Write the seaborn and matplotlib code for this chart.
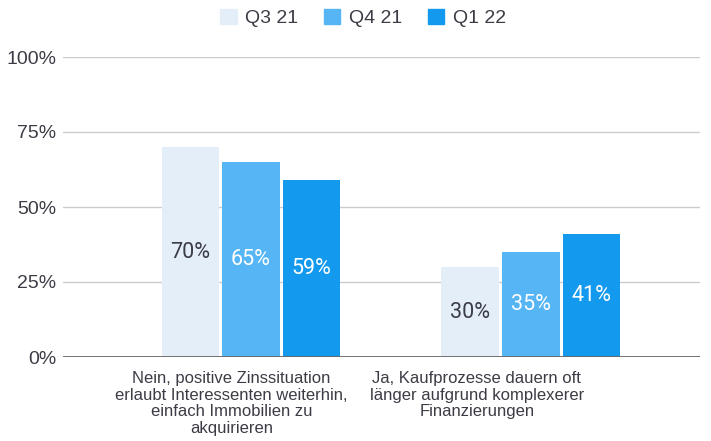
import seaborn as sns
import pandas as pd
import matplotlib.pyplot as plt
import matplotlib.transforms as mtransforms

categories = [
    "Nein, positive Zinssituation\nerlaubt Interessenten weiterhin,\neinfach Immobilien zu\nakquirieren",
    "Ja, Kaufprozesse dauern oft\nlänger aufgrund komplexerer\nFinanzierungen",
]
quarters = ["Q3 21", "Q4 21", "Q1 22"]
q3_21 = [70, 30]
q4_21 = [65, 35]
q1_22 = [59, 41]

colors = {"Q3 21": "#E3EEF8", "Q4 21": "#55B5F5", "Q1 22": "#1399EE"}
label_colors = {"Q3 21": "#3C3C46", "Q4 21": "white", "Q1 22": "white"}
TEXT = "#3C3C46"

rows = []
for q, vals in zip(quarters, [q3_21, q4_21, q1_22]):
    for c, v in zip(categories, vals):
        rows.append({"Kategorie": c, "Quartal": q, "Wert": v})
df = pd.DataFrame(rows)

sns.set_style("white")
plt.rcParams['font.family'] = ['Liberation Sans', 'DejaVu Sans']

fig = plt.figure(figsize=(7.11, 4.41), dpi=100)
ax = fig.add_axes([63 / 711, (441 - 357) / 441, (700 - 63) / 711, 300 / 441])

sns.barplot(data=df, x="Kategorie", y="Wert", hue="Quartal", order=categories,
            hue_order=quarters, palette=colors, width=0.65, gap=0.05,
            saturation=1, ax=ax, legend=False, linewidth=0)

# value labels in the middle of each bar
for container, q in zip(ax.containers, quarters):
    labels = [f"{v:.0f}%" for v in container.datavalues]
    ax.bar_label(container, labels=labels, label_type='center',
                 color=label_colors[q], fontsize=15.5, family=['Roboto', 'DejaVu Sans'])

ax.set_ylim(0, 100)
ax.set_xlim(-0.672, 1.605)
ax.set_yticks([0, 25, 50, 75, 100])
ax.set_yticklabels(["0%", "25%", "50%", "75%", "100%"], fontsize=14, color=TEXT)
ax.yaxis.grid(True, color="#CCCCCC", linewidth=1)
ax.set_axisbelow(True)
for s in ax.spines.values():
    s.set_visible(False)
ax.axhline(0, color="#666666", linewidth=2, zorder=3)
ax.tick_params(axis='y', length=0, pad=5)
ax.tick_params(axis='x', length=0, pad=10)
ax.set_xlabel("")
ax.set_ylabel("")

ax.set_xticks([0, 1])
ax.set_xticklabels(categories, fontsize=12, color=TEXT, linespacing=1.15, va='top')
# Google-style labels sit a bit left of the bar groups
for lbl, dx in zip(ax.get_xticklabels(), [-19.5, -54]):
    lbl.set_transform(lbl.get_transform() + mtransforms.ScaledTranslation(dx / 100, 0, fig.dpi_scale_trans))

# legend at the top
handles = [plt.Rectangle((0, 0), 1, 1, color=colors[q]) for q in quarters]
fig.legend(handles, quarters, loc='center', bbox_to_anchor=(363 / 711, 1 - 18 / 441),
           ncol=3, frameon=False, fontsize=14, handlelength=0.85, handleheight=0.85,
           handletextpad=0.45, columnspacing=1.3, labelcolor=TEXT)

plt.savefig("out.png", dpi=100)
